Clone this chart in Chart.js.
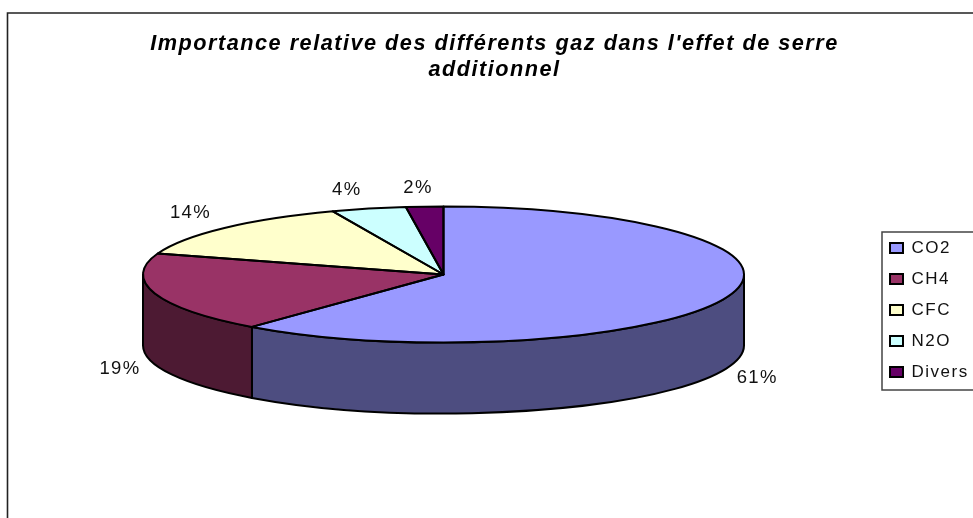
<!DOCTYPE html>
<html lang="fr"><head><meta charset="utf-8">
<style>html,body{margin:0;padding:0;background:#fff}canvas{display:block}</style>
<script src="https://cdn.jsdelivr.net/npm/chart.js@4"></script>
</head><body><canvas id="c" width="973" height="518"></canvas>
<script>
const titleLines = ["Importance relative des différents gaz dans l'effet de serre", "additionnel"];
const categories = ["CO2", "CH4", "CFC", "N2O", "Divers"];
const shares = [61, 19, 14, 4, 2];
const topColors = ["#9999FF", "#993366", "#FFFFCC", "#CCFFFF", "#660066"];
const wallColors = ["#4D4D80", "#4D1A33", "#80806A", "#6A8080", "#330033"];
const labelNudge = [[31, 80], [-35, 75.5], [-34, -15], [-22, -18.6], [-6.6, -18.6]];

const FONT = "'Liberation Sans', Arial, sans-serif";
const TRACK = '1.5px';
const pie = { cx: 443.5, cy: 274.5, rx: 300.5, ry: 68, depth: 71 };
const legendFrame = { left: 882, top: 232, bottom: 390 };

function spacing(ctx, v) { ctx.letterSpacing = v; }

const tiltedPie = {
  id: 'tiltedPie',
  beforeInit(c) { spacing(c.ctx, TRACK); },
  beforeUpdate(c) { spacing(c.ctx, TRACK); },
  afterLayout(c) {
    const l = c.legend;
    const pad = l.options.labels.padding;
    l.left = legendFrame.left + 8 - pad;
    l.right = 1000;
    l.width = l.right - l.left;
    l.top = legendFrame.top + 7.5 - pad;
    l.bottom = legendFrame.bottom + 40;
    l.height = l.bottom - l.top;
  },
  beforeDraw(c) {
    const g = c.ctx;
    g.save();
    g.strokeStyle = '#222'; g.lineWidth = 1.6;
    g.beginPath(); g.moveTo(7.5, 518); g.lineTo(7.5, 13); g.lineTo(975, 13); g.stroke();
    g.strokeStyle = '#444'; g.lineWidth = 1.5;
    g.strokeRect(legendFrame.left, legendFrame.top, 200, legendFrame.bottom - legendFrame.top);
    g.restore();
    spacing(g, TRACK);
  },
  beforeDatasetsDraw(c) {
    const g = c.ctx, arcs = c.getDatasetMeta(0).data;
    g.save();
    g.lineWidth = 2; g.strokeStyle = '#000'; g.lineJoin = 'round';
    arcs.forEach((a, i) => {
      const s = Math.max(a.startAngle, 0), e = Math.min(a.endAngle, Math.PI);
      if (e <= s) return;
      g.beginPath();
      g.ellipse(pie.cx, pie.cy, pie.rx, pie.ry, 0, s, e);
      g.ellipse(pie.cx, pie.cy + pie.depth, pie.rx, pie.ry, 0, e, s, true);
      g.closePath();
      g.fillStyle = wallColors[i];
      g.fill(); g.stroke();
    });
    g.restore();
    const a0 = arcs[0];
    g.save();
    g.translate(pie.cx, pie.cy);
    g.scale(pie.rx / a0.outerRadius, pie.ry / a0.outerRadius);
    g.translate(-a0.x, -a0.y);
  },
  afterDatasetsDraw(c) {
    const g = c.ctx, arcs = c.getDatasetMeta(0).data;
    g.restore();
    g.save();
    g.lineWidth = 2; g.strokeStyle = '#000'; g.lineJoin = 'round';
    arcs.forEach(a => {
      g.beginPath();
      g.moveTo(pie.cx, pie.cy);
      g.ellipse(pie.cx, pie.cy, pie.rx, pie.ry, 0, a.startAngle, a.endAngle);
      g.closePath();
      g.stroke();
    });
    g.font = "18.5px " + FONT;
    g.fillStyle = '#111';
    g.textAlign = 'center'; g.textBaseline = 'middle';
    spacing(g, '1.3px');
    arcs.forEach((a, i) => {
      const m = (a.startAngle + a.endAngle) / 2;
      const x = pie.cx + pie.rx * Math.cos(m) + labelNudge[i][0];
      const y = pie.cy + pie.ry * Math.sin(m) + labelNudge[i][1];
      g.fillText(shares[i] + '%', x, y);
    });
    g.restore();
    spacing(g, TRACK);
  }
};

new Chart(document.getElementById('c'), {
  type: 'pie',
  plugins: [tiltedPie],
  data: {
    labels: categories,
    datasets: [{
      data: shares,
      backgroundColor: topColors,
      borderColor: '#000',
      borderWidth: 0,
      clip: false,
      hoverOffset: 0
    }]
  },
  options: {
    responsive: false,
    animation: false,
    events: [],
    radius: 300,
    layout: { padding: { left: 16, top: 31 } },
    plugins: {
      tooltip: { enabled: false },
      title: {
        display: true,
        text: titleLines,
        color: '#000',
        font: { family: FONT, size: 21.7, weight: 'bold', style: 'italic', lineHeight: 1.2 },
        padding: 0
      },
      legend: {
        display: true,
        position: 'right',
        align: 'start',
        labels: {
          boxWidth: 13, boxHeight: 10,
          padding: 14,
          color: '#111',
          font: { family: FONT, size: 17 },
          generateLabels(chart) {
            return Chart.overrides.pie.plugins.legend.labels.generateLabels(chart)
              .map(it => Object.assign(it, { strokeStyle: '#000', lineWidth: 2 }));
          }
        }
      }
    }
  }
});
</script></body></html>
